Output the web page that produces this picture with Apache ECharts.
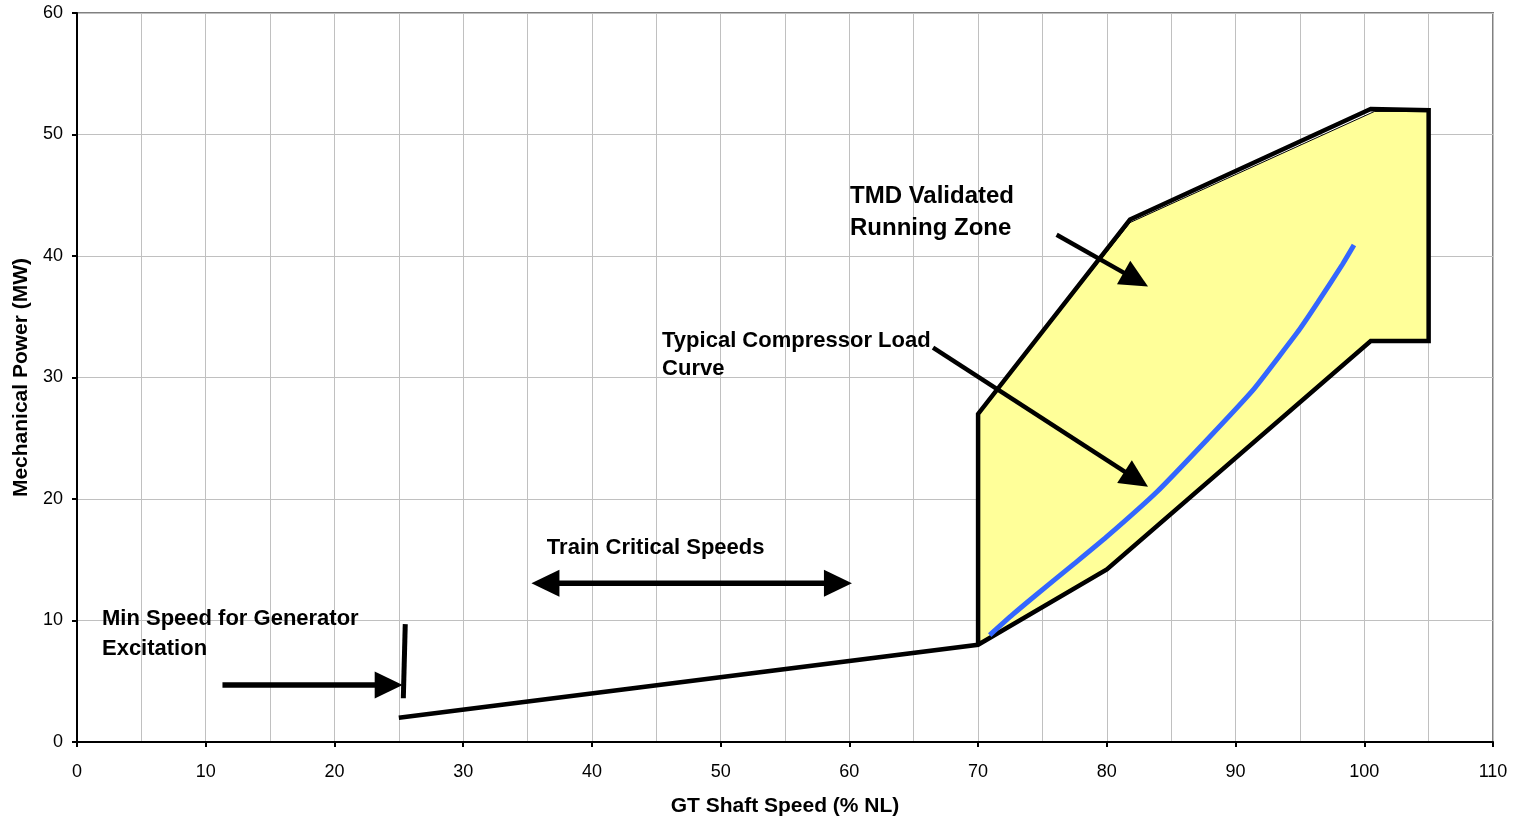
<!DOCTYPE html>
<html>
<head>
<meta charset="utf-8">
<title>GT Shaft Speed vs Mechanical Power</title>
<script src="https://cdn.jsdelivr.net/npm/echarts@6/dist/echarts.min.js"></script>
<style>
  html, body { margin: 0; padding: 0; background: #fff; }
  #chart { width: 1514px; height: 822px; }
</style>
</head>
<body>
<div id="chart"></div>
<script>
const FONT = '"Liberation Sans", Arial, Helvetica, sans-serif';

// Operating line: low-speed ramp, then round the validated running envelope
const operatingLine = [[25, 2], [70, 8], [80, 14.2], [100.5, 33], [105, 33], [105, 52], [100.5, 52.1], [81.8, 43], [70, 27], [70, 8]];

// Validated running zone (filled area)
const zoneOutline = [[70, 8], [70, 27], [81.8, 42.75], [100.8, 51.9], [105, 51.9], [105, 33], [100.5, 33], [80, 14.2], [70, 8]];

// Typical compressor load curve
const loadCurve = [[70.9, 8.8], [72.7, 10.5], [74.5, 12.1], [77.5, 14.7], [80, 16.9], [83.9, 20.6], [87.8, 24.9], [91.3, 28.9], [93.5, 31.9], [95, 34.0], [96.4, 36.2], [98.3, 39.3], [99.2, 40.9]];

// Annotation arrows (tail -> head)
const arrowFrom = [[11.3, 4.7], [35.3, 13.07], [76.1, 41.75], [66.5, 32.46]];
const arrowTo = [[25.3, 4.7], [60.2, 13.07], [83.2, 37.5], [83.2, 21.0]];
const arrowBothEnds = [false, true, false, false];

// Minimum excitation speed marker
const excitationMarker = [[25.5, 9.7], [25.35, 3.6]];

// Annotation texts
const noteText = ['TMD Validated\nRunning Zone', 'Typical Compressor Load\nCurve', 'Min Speed for Generator\nExcitation', 'Train Critical Speeds'];
const noteAt = [[60.05, 43.6], [45.45, 31.85], [1.94, 8.9], [36.5, 15.95]];

const xRange = { min: 0, max: 110, interval: 10 };
const yRange = { min: 0, max: 60, interval: 10 };

const noteSize = [24, 22, 22, 22];
const noteLineHeight = [32, 28, 30, 24];

function renderZone(params, api) {
  return {
    type: 'polygon',
    shape: { points: zoneOutline.map(p => api.coord(p)) },
    style: { fill: '#ffff99', stroke: '#000', lineWidth: 1 }
  };
}

function renderArrow(params, api) {
  const i = params.dataIndex;
  const a = api.coord(arrowFrom[i]);
  const b = api.coord(arrowTo[i]);
  const dx = b[0] - a[0], dy = b[1] - a[1];
  const len = Math.hypot(dx, dy);
  const ux = dx / len, uy = dy / len;
  const nx = -uy, ny = ux;
  const L = 28, W = 13.5;
  const head = (tip, sx, sy) => {
    const bx = tip[0] - sx * L, by = tip[1] - sy * L;
    return {
      type: 'polygon',
      shape: { points: [tip, [bx + nx * W, by + ny * W], [bx - nx * W, by - ny * W]] },
      style: { fill: '#000' }
    };
  };
  const both = arrowBothEnds[i];
  const start = both ? [a[0] + ux * (L - 2), a[1] + uy * (L - 2)] : a;
  const end = [b[0] - ux * (L - 2), b[1] - uy * (L - 2)];
  const children = [{
    type: 'line',
    shape: { x1: start[0], y1: start[1], x2: end[0], y2: end[1] },
    style: { stroke: '#000', lineWidth: i < 2 ? 5.5 : 4.5 }
  }, head(b, ux, uy)];
  if (both) children.push(head(a, -ux, -uy));
  return { type: 'group', children };
}

function renderNote(params, api) {
  const i = params.dataIndex;
  const p = api.coord(noteAt[i]);
  return {
    type: 'text',
    x: p[0], y: p[1],
    style: {
      text: noteText[i],
      fill: '#000',
      font: 'bold ' + noteSize[i] + 'px ' + FONT,
      align: 'left',
      verticalAlign: 'middle',
      lineHeight: noteLineHeight[i]
    }
  };
}

const chart = echarts.init(document.getElementById('chart'), null, { renderer: 'canvas' });

chart.setOption({
  backgroundColor: '#fff',
  animation: false,
  grid: {
    left: 77, right: 21, top: 13, bottom: 79,
    show: true, borderColor: '#808080', borderWidth: 2, backgroundColor: 'transparent'
  },
  xAxis: {
    type: 'value',
    min: xRange.min, max: xRange.max, interval: xRange.interval,
    name: 'GT Shaft Speed (% NL)',
    nameLocation: 'middle',
    nameGap: 54,
    nameTextStyle: { color: '#000', fontFamily: FONT, fontSize: 21, fontWeight: 'bold' },
    axisLine: { onZero: false, lineStyle: { color: '#000', width: 2 } },
    axisTick: { show: true, inside: false, length: 5, lineStyle: { color: '#000', width: 2 } },
    axisLabel: { color: '#000', fontFamily: FONT, fontSize: 18, margin: 21 },
    splitLine: { show: true, lineStyle: { color: '#c0c0c0', width: 1 } },
    minorTick: { show: false, splitNumber: 2 },
    minorSplitLine: { show: true, lineStyle: { color: '#c0c0c0', width: 1 } }
  },
  yAxis: {
    type: 'value',
    min: yRange.min, max: yRange.max, interval: yRange.interval,
    name: 'Mechanical Power (MW)',
    nameLocation: 'middle',
    nameGap: 43,
    nameTextStyle: { color: '#000', fontFamily: FONT, fontSize: 21, fontWeight: 'bold' },
    axisLine: { onZero: false, lineStyle: { color: '#000', width: 2 } },
    axisTick: { show: true, inside: false, length: 5, lineStyle: { color: '#000', width: 2 } },
    axisLabel: { color: '#000', fontFamily: FONT, fontSize: 18, margin: 14 },
    splitLine: { show: true, lineStyle: { color: '#c0c0c0', width: 1 } }
  },
  series: [
    {
      name: 'Running Zone',
      type: 'custom',
      renderItem: renderZone,
      data: [[0, 0]],
      z: 1,
      silent: true
    },
    {
      name: 'Operating Line',
      type: 'line',
      data: operatingLine,
      symbol: 'none',
      lineStyle: { color: '#000', width: 4.5, join: 'miter' },
      z: 3,
      silent: true
    },
    {
      name: 'Min Excitation Speed',
      type: 'line',
      data: excitationMarker,
      symbol: 'none',
      lineStyle: { color: '#000', width: 5 },
      z: 3,
      silent: true
    },
    {
      name: 'Typical Compressor Load Curve',
      type: 'line',
      data: loadCurve,
      symbol: 'none',
      smooth: 0.2,
      lineStyle: { color: '#3366ff', width: 5 },
      z: 4,
      silent: true
    },
    {
      name: 'Arrows',
      type: 'custom',
      renderItem: renderArrow,
      data: arrowFrom.map(p => p.slice()),
      z: 5,
      silent: true
    },
    {
      name: 'Notes',
      type: 'custom',
      renderItem: renderNote,
      data: noteAt.map(p => p.slice()),
      z: 6,
      silent: true
    }
  ]
});
</script>
</body>
</html>
